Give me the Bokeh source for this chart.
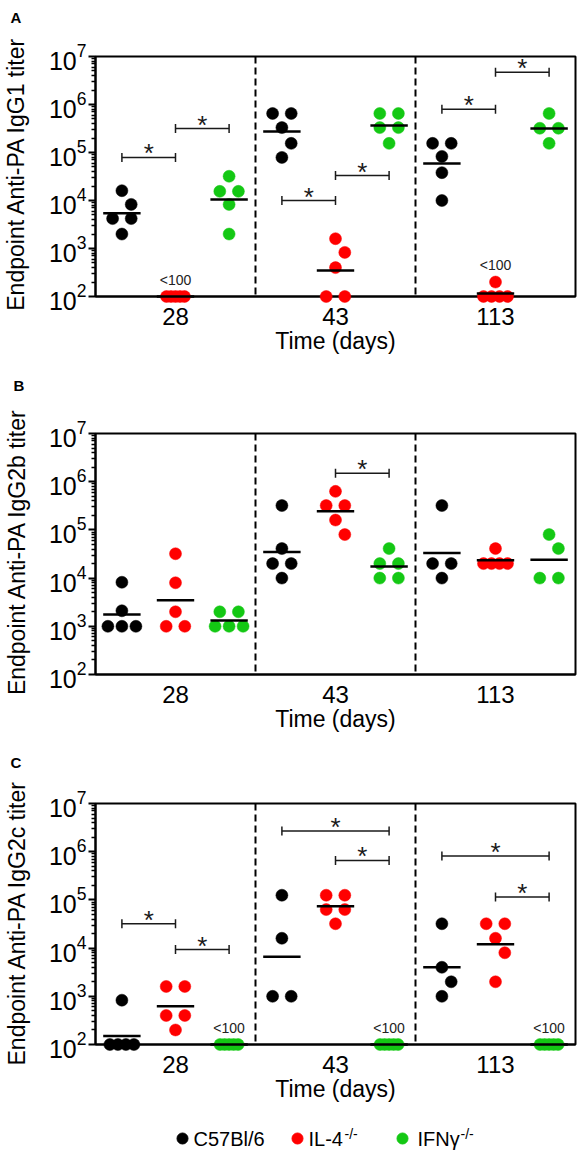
import numpy as np
from bokeh.plotting import figure
from bokeh.models import Range1d, FixedTicker, Span
from bokeh.layouts import column
from bokeh.embed import file_html
from bokeh.resources import INLINE
from bokeh.core.properties import value

# ---------------- data ----------------
DAYS = ["28", "43", "113"]
STRAINS = ["C57Bl/6", "IL-4", "IFN\u03b3"]
STRAIN_SUP = ["", "-/-", "-/-"]
STRAIN_COLORS = ["#000000", "#ff0000", "#14c814"]

# Panel A: IgG1 endpoint titers, [day28, day43, day113]
A_C57BL6 = [[16000, 8300, 4200, 4200, 2000],
            [650000, 650000, 330000, 155000, 79000],
            [155000, 155000, 83000, 38000, 10000]]
A_IL4 = [[100, 100, 100, 100, 100],
         [1600, 830, 400, 100, 100],
         [200, 100, 100, 100, 100]]
A_IFNG = [[32000, 15500, 15500, 8300, 2000],
          [650000, 650000, 330000, 330000, 155000],
          [650000, 320000, 320000, 155000]]
A_MEAN_C57BL6 = [5400, 275000, 59000]
A_MEAN_IL4 = [100, 350, 115]
A_MEAN_IFNG = [10500, 365000, 316000]
# significance brackets: (day index, from strain, to strain, titer level)
A_SIG = [(0, 0, 1, 79000), (0, 1, 2, 316000), (1, 0, 1, 10000),
         (1, 1, 2, 33000), (2, 0, 1, 800000), (2, 1, 2, 4700000)]
A_BELOW = [(0, 1), (2, 1)]  # (day index, strain) labelled "<100"

# Panel B: IgG2b
B_C57BL6 = [[8200, 2100, 1000, 1000, 1000],
            [320000, 41000, 20000, 20000, 10000],
            [320000, 20000, 20000, 10000]]
B_IL4 = [[32000, 8000, 2000, 1000, 1000],
         [630000, 320000, 320000, 160000, 80000],
         [41000, 20000, 20000, 20000, 20000]]
B_IFNG = [[2000, 2000, 1000, 1000, 1000],
          [41000, 20000, 20000, 10000, 10000],
          [80000, 41000, 10000, 10000]]
B_MEAN_C57BL6 = [1760, 34700, 33000]
B_MEAN_IL4 = [3470, 245000, 23400]
B_MEAN_IFNG = [1320, 17400, 24000]
B_SIG = [(1, 1, 2, 1500000)]
B_BELOW = []

# Panel C: IgG2c
C_C57BL6 = [[830, 100, 100, 100, 100],
            [125000, 16000, 1000, 1000],
            [32000, 4000, 2000, 1000]]
C_IL4 = [[1600, 1600, 400, 400, 200],
         [125000, 125000, 63000, 63000, 32000],
         [32000, 32000, 16000, 8000, 2000]]
C_IFNG = [[100, 100, 100, 100, 100],
          [100, 100, 100, 100, 100],
          [100, 100, 100, 100, 100]]
C_MEAN_C57BL6 = [150, 6600, 4000]
C_MEAN_IL4 = [620, 74000, 12000]
C_MEAN_IFNG = [100, 100, 100]
C_SIG = [(0, 0, 1, 32000), (0, 1, 2, 9300), (1, 0, 2, 2700000),
         (1, 1, 2, 660000), (2, 0, 2, 810000), (2, 1, 2, 115000)]
C_BELOW = [(0, 2), (1, 2), (2, 2)]

Y_TICKS = [1e2, 1e3, 1e4, 1e5, 1e6, 1e7]

# ---------------- layout / style ----------------
FONT = "Liberation Sans"
FIG_W = 582
LEFT = 95
RIGHT = 7
FRAME_W = FIG_W - LEFT - RIGHT
PX_PER_UNIT = FRAME_W / 3.0
STRAIN_OFFSET = [-0.335, 0.0, 0.335]
DOT = 12
MEAN_HALF_PX = 18.7


def swarm(vals, px_per_dec, step=9.3, dmin_req=16.0):
    """Simple deterministic beeswarm, offsets in pixels."""
    n = len(vals)
    ys = [np.log10(v) * px_per_dec for v in vals]
    order = sorted(range(n), key=lambda i: -vals[i])
    offs = [0.0] * n
    placed = []
    span_by_k = {2: 2 * step, 3: 28.0, 4: 24.0, 5: 18.0}
    i = 0
    while i < n:
        j = i
        while j < n and vals[order[j]] == vals[order[i]]:
            j += 1
        row = order[i:j]
        k = len(row)
        if k > 1:
            sp = span_by_k.get(k, 18.0) / (k - 1)
            for m, idx in enumerate(row):
                offs[idx] = (m - (k - 1) / 2.0) * sp
        else:
            idx = row[0]
            best, bestd = 0.0, -1.0
            for c in (0.0, step, -step):
                d = min([np.hypot(c - px, ys[idx] - py) for px, py in placed], default=1e9)
                if d >= dmin_req:
                    best = c
                    break
                if d > bestd:
                    bestd, best = d, c
            offs[idx] = best
        for idx in row:
            placed.append((offs[idx], ys[idx]))
        i = j
    return offs


def make_panel(letter, ylabel, series, means, sigs, below, top, frame_h, bottom,
               letter_xy, ylabel_center):
    height = top + frame_h + bottom
    p = figure(width=FIG_W, height=height, y_axis_type="log",
               x_range=Range1d(-0.5, 2.5), y_range=Range1d(1e2, 1e7),
               output_backend="svg", toolbar_location=None,
               min_border_left=LEFT, min_border_right=RIGHT,
               min_border_top=top, min_border_bottom=bottom)
    p.grid.visible = False
    p.outline_line_color = "black"
    p.outline_line_width = 2
    p.outline_line_alpha = 1.0
    p.background_fill_color = "white"
    p.border_fill_color = "white"

    # y axis
    yax = p.yaxis[0]
    minor = [m * 10 ** k for k in range(2, 7) for m in range(2, 10)]
    yax.ticker = FixedTicker(ticks=Y_TICKS, minor_ticks=minor)
    yax.axis_line_width = 2
    yax.major_tick_out = 7
    yax.major_tick_in = 0
    yax.major_tick_line_width = 2
    yax.minor_tick_out = 4
    yax.minor_tick_in = 0
    yax.minor_tick_line_width = 1.5
    yax.major_label_standoff = 2
    yax.major_label_text_font = FONT
    yax.major_label_text_font_size = "25px"
    yax.major_label_text_color = "black"

    # y axis title
    cx, cy = ylabel_center
    p.text(x=[-0.5], y=[1e7], text=[ylabel], x_offset=cx - LEFT, y_offset=cy - top,
           angle=np.pi / 2, text_align="center", text_baseline="middle",
           text_font=value(FONT), text_font_size="23px", text_color="black",
           level="overlay")

    # x axis
    xax = p.xaxis[0]
    xax.ticker = FixedTicker(ticks=list(range(len(DAYS))))
    xax.major_label_overrides = {i: d for i, d in enumerate(DAYS)}
    xax.axis_line_width = 2
    xax.major_tick_out = 0
    xax.major_tick_in = 0
    xax.minor_tick_out = 0
    xax.minor_tick_in = 0
    xax.major_label_standoff = 11
    xax.major_label_text_font = FONT
    xax.major_label_text_font_size = "24px"
    xax.major_label_text_color = "black"
    xax.axis_label = "Time (days)"
    xax.axis_label_text_font = FONT
    xax.axis_label_text_font_size = "23px"
    xax.axis_label_text_font_style = "normal"
    xax.axis_label_text_color = "black"
    xax.axis_label_standoff = 0

    # dashed dividers between days
    for k in range(len(DAYS) - 1):
        p.add_layout(Span(location=k + 0.5, dimension="height", line_color="black",
                          line_width=2, line_dash="7 4"))

    px_per_dec = frame_h / 5.0
    # points
    for s, (ser, col) in enumerate(zip(series, STRAIN_COLORS)):
        xs, ys = [], []
        for d, vals in enumerate(ser):
            offs = swarm(vals, px_per_dec)
            for v, o in zip(vals, offs):
                xs.append(d + STRAIN_OFFSET[s] + o / PX_PER_UNIT)
                ys.append(v)
        p.scatter(xs, ys, size=DOT, fill_color=col, line_color=col, line_width=0.5,
                  level="overlay")
    # geometric mean lines
    hw = MEAN_HALF_PX / PX_PER_UNIT
    for s, mser in enumerate(means):
        cxs = [d + STRAIN_OFFSET[s] for d in range(len(mser))]
        p.segment(x0=[c - hw for c in cxs], x1=[c + hw for c in cxs], y0=mser, y1=mser,
                  line_color="black", line_width=2.5, level="overlay")
    # significance brackets
    if sigs:
        bx0 = [d + STRAIN_OFFSET[a] for d, a, b, y in sigs]
        bx1 = [d + STRAIN_OFFSET[b] for d, a, b, y in sigs]
        by = [y for d, a, b, y in sigs]
        p.segment(x0=bx0, x1=bx1, y0=by, y1=by, line_color="#1a1a1a", line_width=1.5)
        p.scatter(bx0 + bx1, by + by, marker="dash", size=9, angle=np.pi / 2,
                  line_color="#1a1a1a", line_width=1.5)
        p.text(x=[(a + b) / 2 for a, b in zip(bx0, bx1)], y=by, text=["*"] * len(by),
               text_align="center", text_baseline="middle", y_offset=-4,
               text_font=value(FONT), text_font_size="26px", text_color="#1a1a1a")
    # "<100" labels
    if below:
        lx = [d + STRAIN_OFFSET[s] for d, s in below]
        ly = [max(series[s][d]) for d, s in below]
        p.text(x=lx, y=ly, text=["<100"] * len(lx), text_align="center",
               text_baseline="middle", y_offset=-17, text_font=value(FONT),
               text_font_size="14px", text_color="#222222", level="overlay")
    # panel letter, anchored at the frame's top-left corner
    lx_fig, ly_fig = letter_xy
    p.text(x=[-0.5], y=[1e7], text=[letter], x_offset=lx_fig - LEFT, y_offset=ly_fig - top,
           text_align="left", text_baseline="top", text_font=value(FONT),
           text_font_size="15px", text_font_style="bold", text_color="black",
           level="overlay")
    return p


pA = make_panel("A", "Endpoint Anti-PA IgG1 titer", [A_C57BL6, A_IL4, A_IFNG],
                [A_MEAN_C57BL6, A_MEAN_IL4, A_MEAN_IFNG], A_SIG, A_BELOW,
                top=56, frame_h=240, bottom=74, letter_xy=(10, 8), ylabel_center=(15, 173))
pB = make_panel("B", "Endpoint Anti-PA IgG2b titer", [B_C57BL6, B_IL4, B_IFNG],
                [B_MEAN_C57BL6, B_MEAN_IL4, B_MEAN_IFNG], B_SIG, B_BELOW,
                top=63, frame_h=241, bottom=76, letter_xy=(13, 6), ylabel_center=(16, 181))
pC = make_panel("C", "Endpoint Anti-PA IgG2c titer", [C_C57BL6, C_IL4, C_IFNG],
                [C_MEAN_C57BL6, C_MEAN_IL4, C_MEAN_IFNG], C_SIG, C_BELOW,
                top=53, frame_h=241, bottom=66, letter_xy=(10, 3), ylabel_center=(16, 172))

# legend as its own small figure (its frame is aligned with the panels' frames,
# so the x range is expressed in page pixels)
LEG_H = 45
pL = figure(width=FIG_W, height=LEG_H, x_range=Range1d(LEFT, FIG_W - RIGHT),
            y_range=Range1d(0, LEG_H), output_backend="svg", toolbar_location=None,
            min_border=0, min_border_left=LEFT, min_border_right=RIGHT,
            x_axis_location=None, y_axis_location=None)
pL.grid.visible = False
pL.outline_line_color = None
LEG_MARK_X = [182, 297, 402]
LEG_TEXT_X = [193, 308, 417]
LEG_SUP_X = [0, 344, 460]
pL.scatter(LEG_MARK_X, [17] * 3, size=11, fill_color=STRAIN_COLORS, line_color=STRAIN_COLORS,
           level="overlay")
pL.text(LEG_TEXT_X, [17] * 3, text=STRAINS, text_baseline="middle", text_align="left",
        text_font=value(FONT), text_font_size="20px", text_color="black", level="overlay")
pL.text(LEG_SUP_X, [22] * 3, text=STRAIN_SUP,
        text_baseline="middle", text_align="left", text_font=value(FONT),
        text_font_size="14px", text_color="black", level="overlay")

layout = column(pA, pB, pC, pL, spacing=0)
open("out.html", "w").write(file_html(layout, INLINE))
